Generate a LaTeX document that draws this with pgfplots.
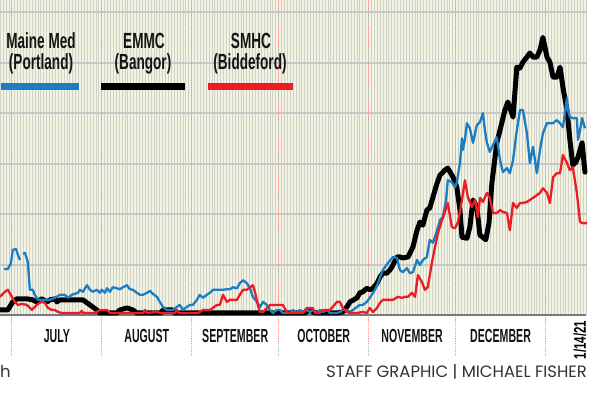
\documentclass[border=0pt]{standalone}
\usepackage{pgfplots}
\usepackage{pgfplotstable}
\pgfplotsset{compat=1.18}
\usepackage{fontspec}
\setmainfont{Liberation Sans}
\newfontfamily\legfont[FakeStretch=0.62]{Liberation Sans}
\newfontfamily\monfont[FakeStretch=0.56]{Liberation Sans}
\newfontfamily\datefont[FakeStretch=0.68]{Liberation Sans}
\newfontfamily\credfont{Poppins}
\definecolor{mmblue}{RGB}{27,125,196}
\definecolor{smred}{RGB}{237,28,36}
\definecolor{bgc}{RGB}{242,244,225}
\definecolor{dayc}{RGB}{208,209,201}
\definecolor{hgrid}{RGB}{200,200,200}
\definecolor{monc}{RGB}{236,150,150}
\definecolor{basec}{RGB}{120,120,120}

\pgfplotstableread{
d v
-2.8 9.1
-1.4 9.1
-0.3 10.3
0.3 12.9
1.4 13.1
2.1 11.9
2.8 10.9
3.3 nan
3.8 12.1
4.5 12.3
5.5 10.5
6.2 5.0
7.2 5.0
7.9 4.0
9.0 3.0
13.1 3.0
14.8 3.4
16.6 4.0
18.3 4.0
19.3 3.4
20.7 4.0
22.8 4.4
23.4 5.0
24.5 4.6
25.9 5.9
26.9 5.0
27.9 4.6
29.3 5.0
30.3 4.4
31.0 5.0
32.1 4.4
32.8 5.3
33.8 4.6
34.8 5.5
36.2 5.3
37.2 5.1
38.3 5.5
39.7 5.9
40.7 5.1
41.7 5.0
43.1 4.4
44.1 4.0
45.2 4.0
46.6 4.4
47.6 4.8
48.6 4.2
50.0 3.6
51.0 2.6
52.1 1.6
53.4 1.0
55.5 1.0
56.9 1.6
57.9 2.0
59.0 1.0
60.3 1.6
61.4 2.0
62.4 2.0
63.8 3.0
64.8 4.0
65.9 3.4
67.2 4.0
68.3 4.4
69.3 5.0
72.8 5.0
74.1 5.1
75.2 5.1
76.2 5.5
77.6 5.3
78.6 6.3
79.7 6.9
81.0 6.3
82.1 5.3
83.1 3.6
84.5 2.6
85.5 1.6
86.6 2.6
87.9 2.0
89.0 1.0
90.0 0.4
91.4 1.0
92.4 1.0
93.4 0.4
95.9 0.4
96.9 1.0
98.3 0.4
99.3 1.0
100.3 0.6
101.7 1.0
102.8 0.6
103.8 1.0
105.2 0.4
106.2 1.0
107.2 0.6
108.6 1.0
109.7 0.4
112.1 0.4
113.1 0.6
114.1 1.0
115.5 1.0
116.6 0.6
117.6 1.0
119.0 1.6
120.0 2.0
121.0 2.0
122.4 2.6
123.4 3.4
125.2 5.0
126.2 6.3
127.9 8.9
129.7 10.3
131.4 11.5
132.8 11.3
133.8 8.9
134.8 8.5
136.2 9.3
137.2 8.3
138.3 8.5
139.7 10.9
140.7 9.9
141.7 10.9
143.1 11.5
144.1 14.9
145.2 14.3
146.6 16.8
147.6 18.8
148.6 19.4
149.7 22.8
150.3 26.7
151.7 26.3
152.8 25.3
153.4 26.3
154.5 30.1
155.2 35.0
155.5 32.7
156.2 34.7
156.9 38.0
157.9 37.0
159.0 34.1
160.3 37.6
161.4 38.2
162.4 40.0
163.1 36.6
163.8 34.1
164.8 32.3
165.9 33.7
167.2 35.2
168.3 30.7
169.3 28.3
170.7 29.1
171.7 28.1
172.8 30.7
174.1 36.6
175.2 40.6
176.2 40.6
177.6 36.0
178.6 30.1
179.7 33.3
181.0 28.1
182.1 32.7
183.1 36.0
184.5 38.0
186.6 38.0
187.9 38.6
189.0 38.0
190.0 37.2
191.4 43.0
191.7 40.6
192.4 39.2
193.4 39.0
194.8 39.0
195.2 34.7
195.9 36.6
196.6 39.0
197.6 37.0
}\mainemed

\pgfplotstableread{
d v
-4.1 1.0
-1.4 1.0
0.3 2.6
1.7 3.2
5.2 3.2
7.2 3.0
8.6 2.6
10.3 3.2
12.1 2.6
13.1 3.0
14.8 3.2
15.5 2.6
16.6 3.0
24.5 3.0
26.9 2.0
29.3 1.0
30.3 0.4
36.2 0.4
37.2 1.0
39.7 1.4
41.7 1.0
43.1 0.4
51.4 0.4
52.1 1.0
55.5 1.0
56.2 0.4
101.0 0.4
102.8 1.0
103.8 0.6
105.2 0.4
112.1 0.4
114.1 0.6
115.5 1.6
116.6 2.6
119.0 3.4
120.0 4.4
121.0 4.6
122.4 5.3
123.4 5.0
124.5 5.3
125.9 6.3
126.9 7.5
127.9 8.3
129.3 8.3
130.3 8.9
131.0 9.5
132.8 11.5
133.8 11.5
134.8 11.3
136.6 11.5
138.3 13.5
139.7 16.8
140.7 18.4
141.7 17.8
143.1 20.8
144.1 21.2
145.2 23.4
146.6 26.1
147.6 27.7
149.3 28.7
150.3 29.1
152.1 27.3
153.4 25.3
154.5 20.8
155.2 15.4
156.9 15.2
157.9 17.4
159.0 22.8
160.3 21.4
161.4 15.8
162.4 15.4
163.4 14.9
164.5 18.2
165.5 26.1
166.6 31.3
167.2 34.1
168.3 36.6
170.0 40.6
171.0 42.2
172.8 39.2
174.1 49.1
175.2 48.9
176.2 50.1
177.6 51.1
178.6 51.9
179.7 51.1
181.0 51.1
182.1 52.5
183.1 55.0
184.5 51.1
185.5 50.1
186.6 47.1
187.9 47.1
189.0 49.1
190.0 45.1
191.4 40.6
192.4 34.7
193.4 29.7
194.5 30.3
195.2 31.3
196.6 34.1
197.6 28.3
}\emmc

\pgfplotstableread{
d v
-4.1 3.6
-2.4 4.6
-1.4 5.0
0 3.6
1.0 2.6
2.1 2.0
3.4 2.2
5.2 2.0
6.9 1.0
7.9 1.6
9.0 2.2
10.3 2.6
11.4 2.4
12.4 1.4
13.8 1.0
14.8 1.0
15.9 0.6
17.2 0.4
23.4 0.4
24.1 0.8
24.5 0.4
28.6 0.4
29.3 0.6
30.3 1.0
32.8 1.0
33.8 0.4
45.2 0.4
45.9 1.0
46.6 0.4
50.0 0.6
51.0 0.4
56.2 0.4
56.9 1.0
57.6 0.4
64.1 0.4
64.8 0.6
65.9 1.0
68.3 1.0
69.3 1.4
70.7 2.0
71.7 2.0
72.8 4.0
74.1 2.6
75.2 3.0
77.6 3.0
78.6 4.0
79.7 5.0
81.0 5.0
82.1 5.5
83.1 5.9
83.8 4.6
84.8 2.0
85.5 0.6
86.6 0.6
89.0 2.0
93.4 2.0
94.8 0.6
95.9 0.4
100.3 0.4
101.7 1.4
103.8 1.4
104.5 0.4
106.2 0.4
107.2 1.0
109.7 1.0
112.1 2.6
113.1 2.6
114.1 1.4
115.5 0.6
116.6 0.4
119.0 0.4
121.0 0.6
122.4 0.4
123.4 1.4
124.5 0.6
125.9 1.4
126.9 2.4
127.9 3.0
131.4 3.0
133.1 3.6
134.5 3.4
135.5 3.6
136.6 3.6
137.9 4.4
139.0 3.6
140.0 7.9
141.4 6.5
142.4 5.0
143.4 5.5
144.8 10.3
145.9 13.5
146.9 16.2
148.3 18.8
149.3 20.4
150.3 22.2
151.7 17.4
152.8 17.2
153.8 18.4
155.2 22.8
156.2 26.7
157.2 23.4
158.6 21.4
159.7 22.8
160.7 19.4
161.4 23.2
162.4 22.4
163.8 24.2
164.8 23.2
165.9 20.2
167.2 20.2
168.3 20.8
169.3 20.4
170.7 20.2
171.7 16.8
172.8 22.2
174.1 21.2
175.2 22.2
176.2 22.2
177.6 22.4
179.7 23.2
182.1 24.2
183.1 25.1
184.5 24.2
185.5 22.2
186.6 27.3
187.9 28.1
189.0 28.1
190.0 31.7
191.4 30.1
192.4 28.7
193.4 29.3
194.8 24.2
195.9 18.4
196.9 18.2
198.3 18.2
}\smhc

\begin{document}
\begin{tikzpicture}
\useasboundingbox (0,0) rectangle (604bp,398bp);
\begin{axis}[
  at={(0bp,83bp)}, anchor=south west,
  scale only axis, width=587bp, height=315bp,
  xmin=-4.1, xmax=198.3, ymin=0, ymax=62.4,
  clip=false,
  axis background/.style={fill=bgc},
  axis line style={draw=none},
  xtick={15.5,46.5,77,107.5,138,168.5},
  xticklabels={JULY,AUGUST,SEPTEMBER,OCTOBER,NOVEMBER,DECEMBER},
  xticklabel style={font=\fontsize{19}{19}\selectfont\monfont\bfseries, anchor=base, inner sep=0pt, yshift=-27.5bp, text=black!92},
  major tick length=0pt, minor tick length=0pt,
  minor xtick={-4,-3,...,198},
  xminorgrids=true,
  minor x grid style={dayc, line width=0.85bp},
  ytick={10,20,30,40,50,60}, yticklabels={},
  ymajorgrids=true,
  y grid style={hgrid, line width=2bp},
  unbounded coords=jump,
]
\pgfplotsinvokeforeach{0,31,62,92,123,153,184}{
  \draw[monc, densely dotted, line width=0.9bp] (axis cs:#1,62.4) -- (axis cs:#1,-8);
}
\draw[basec, line width=2bp] (axis cs:-4.1,0) -- (axis cs:197.8,0);
\addplot[black, line width=5bp, line join=round, line cap=round] table[x=d,y=v] {\emmc};
\addplot[mmblue, line width=2.3bp, line join=round] table[x=d,y=v] {\mainemed};
\addplot[smred, line width=2.3bp, line join=round] table[x=d,y=v] {\smhc};
\end{axis}
\begin{scope}[every node/.style={anchor=base, inner sep=0pt, text=black!92, font=\fontsize{22}{22}\selectfont\legfont\bfseries}]
\node at (41bp,349bp) {Maine Med};
\node at (41bp,328bp) {(Portland)};
\node at (144bp,349bp) {EMMC};
\node at (143bp,328bp) {(Bangor)};
\node at (251bp,349bp) {SMHC};
\node at (250bp,328bp) {(Biddeford)};
\end{scope}
\fill[mmblue] (1bp,308bp) rectangle (79bp,315bp);
\fill[black] (101bp,308bp) rectangle (185bp,315bp);
\fill[smred] (208bp,308bp) rectangle (293bp,315bp);
\node[rotate=90, inner sep=0pt, font=\fontsize{17}{17}\selectfont\datefont\bfseries] at (580bp,58bp) {1/14/21};
\node[anchor=base east, inner sep=0pt, text=black!80, font=\fontsize{16.5}{16.5}\selectfont\credfont] at (587bp,21bp) {STAFF GRAPHIC | MICHAEL FISHER};
\node[anchor=base west, inner sep=0pt, text=black!80, font=\fontsize{16.5}{16.5}\selectfont\credfont] at (0bp,21bp) {h};
\end{tikzpicture}
\end{document}
